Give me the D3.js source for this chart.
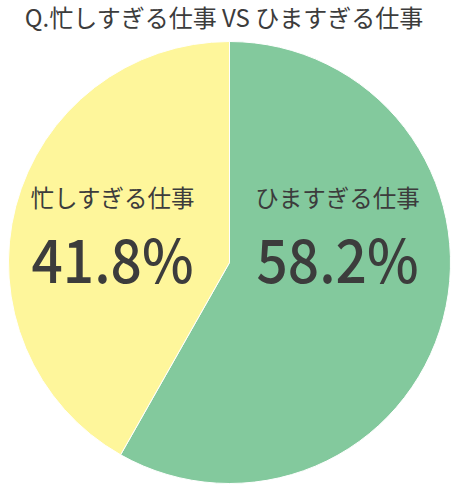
<!DOCTYPE html>
<html>
<head>
<meta charset="utf-8">
<script src="https://cdn.jsdelivr.net/npm/d3@7"></script>
<style>
  body { margin: 0; background: #fff; }
  text { font-family: "Noto Sans CJK JP", "Open Sans", sans-serif; fill: #3c3c3c; }
</style>
</head>
<body>
<svg id="canvas"></svg>
<script>
// chart data
var title = 'Q.忙しすぎる仕事 VS ひますぎる仕事';
var categories = ['ひますぎる仕事', '忙しすぎる仕事'];
var values = [58.2, 41.8];
var colors = ['#83c99d', '#fef69b'];

var width = 458, height = 500;
var cx = 229.5, cy = 262.5, radius = 221;

var svg = d3.select('#canvas')
    .attr('width', width)
    .attr('height', height);

svg.append('text')
    .attr('x', 224)
    .attr('y', 27)
    .attr('text-anchor', 'middle')
    .style('font-size', '24px')
    .text(title);

var pie = d3.pie().sort(null).value(function (d) { return d; });
var arc = d3.arc().innerRadius(0).outerRadius(radius);

var g = svg.append('g').attr('transform', 'translate(' + cx + ',' + cy + ')');
var arcs = pie(values);

g.selectAll('path')
    .data(arcs)
    .enter()
    .append('path')
    .attr('d', arc)
    .attr('fill', function (d, i) { return colors[i]; })
    .attr('stroke', '#fff')
    .attr('stroke-width', 1);

// labels sit horizontally in each half, above center
var labels = g.selectAll('g.label')
    .data(arcs)
    .enter()
    .append('g')
    .attr('class', 'label')
    .attr('transform', function (d, i) {
        var x = i === 0 ? 108 : -117;
        return 'translate(' + x + ',0)';
    });

labels.append('text')
    .attr('y', -56)
    .attr('text-anchor', 'middle')
    .style('font-size', '23.5px')
    .text(function (d, i) { return categories[i]; });

labels.append('text')
    .attr('y', 20)
    .attr('text-anchor', 'middle')
    .style('font-size', '60px')
    .style('font-weight', 500)
    .attr('textLength', 162)
    .attr('lengthAdjust', 'spacingAndGlyphs')
    .text(function (d) { return d.data.toFixed(1) + '%'; });
</script>
</body>
</html>
